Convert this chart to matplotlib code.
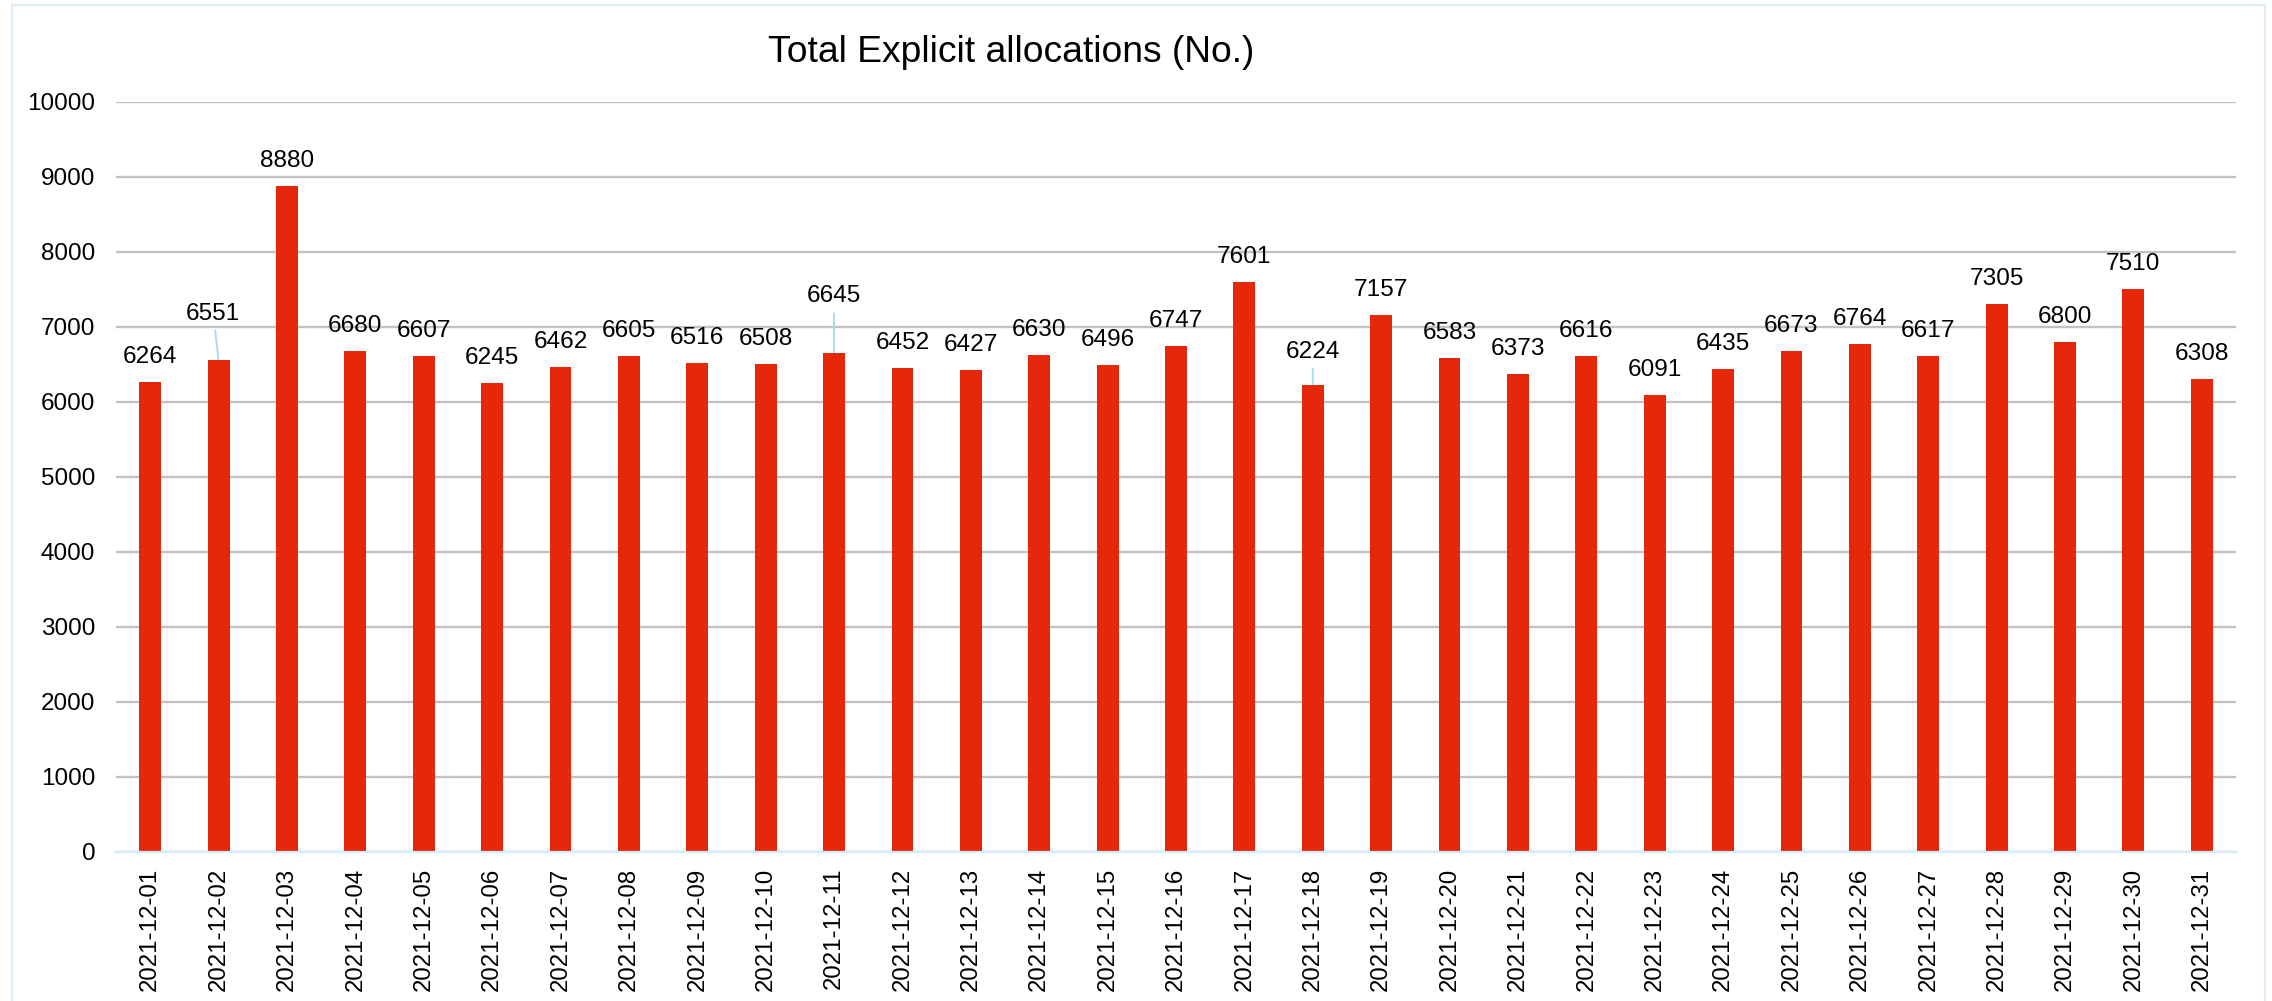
import matplotlib
matplotlib.use("Agg")
import matplotlib.pyplot as plt
from matplotlib.patches import Rectangle

plt.rcParams['font.family'] = ['Liberation Sans', 'DejaVu Sans']

dates = ["2021-12-%02d" % d for d in range(1, 32)]
values = [6264, 6551, 8880, 6680, 6607, 6245, 6462, 6605, 6516, 6508,
          6645, 6452, 6427, 6630, 6496, 6747, 7601, 6224, 7157, 6583,
          6373, 6616, 6091, 6435, 6673, 6764, 6617, 7305, 6800, 7510, 6308]
yticks = [0, 1000, 2000, 3000, 4000, 5000, 6000, 7000, 8000, 9000, 10000]
title = "Total Explicit allocations (No.)"

W, H = 2272, 1001
fig = plt.figure(figsize=(W / 100, H / 100), dpi=100)
fig.patch.set_facecolor('white')

left, right, top, bottom = 116, 2236, 101.7, 852
ax = fig.add_axes([left / W, 1 - bottom / H, (right - left) / W, (bottom - top) / H])

x = list(range(len(values)))
ax.bar(x, values, width=0.32, color='#E62709', zorder=3)

ax.set_xlim(-0.5, len(values) - 0.5)
ax.set_ylim(0, 10000)
ax.set_yticks(yticks)
ax.set_yticklabels([str(t) for t in yticks])
ax.set_xticks(x)
ax.set_xticklabels(dates, rotation=90)
ax.tick_params(axis='x', length=0, pad=11.5, labelsize=17.3)
ax.tick_params(axis='y', length=0, pad=15, labelsize=17.5)
ax.yaxis.grid(True, color='#c2c2c2', lw=1.7, zorder=0)
ax.set_axisbelow(True)
for s in ['top', 'right', 'left']:
    ax.spines[s].set_visible(False)
ax.spines['bottom'].set_color('#d4ecfb')
ax.spines['bottom'].set_linewidth(1.6)
ax.spines['bottom'].set_zorder(4)

# label placement tweaks (points): idx -> (label dx, label dy, line start dx, line start dy)
special = {1: (-4.0, 33.8, -2.5, 21.6), 10: (0, 41.0, 0, 28.8), 17: (0, 23.8, 0, 11.5)}
leader_color = '#a6dcf7'
for i, v in enumerate(values):
    if i in special:
        dx, dy, lx, ly = special[i]
        ax.annotate('', xy=(i, v), xytext=(lx, ly), textcoords='offset points',
                    arrowprops=dict(arrowstyle='-', color=leader_color, lw=1.4,
                                    shrinkA=0, shrinkB=0), zorder=2)
    else:
        dx, dy = 0, 18
    ax.annotate(str(v), xy=(i, v), xytext=(dx, dy), textcoords='offset points',
                ha='center', va='center', fontsize=17.6, color='black', zorder=5)

fig.text(1011 / W, 1 - 62 / H, title, ha='center', va='baseline', fontsize=26.8, color='black')

border = Rectangle((12 / W, -0.01), (2265 - 12) / W, 1 - 5 / H + 0.01, transform=fig.transFigure,
                   fill=False, ec='#dcedf9', lw=1.6, zorder=0)
fig.patches.append(border)

fig.savefig('out.png', dpi=100, facecolor='white')
